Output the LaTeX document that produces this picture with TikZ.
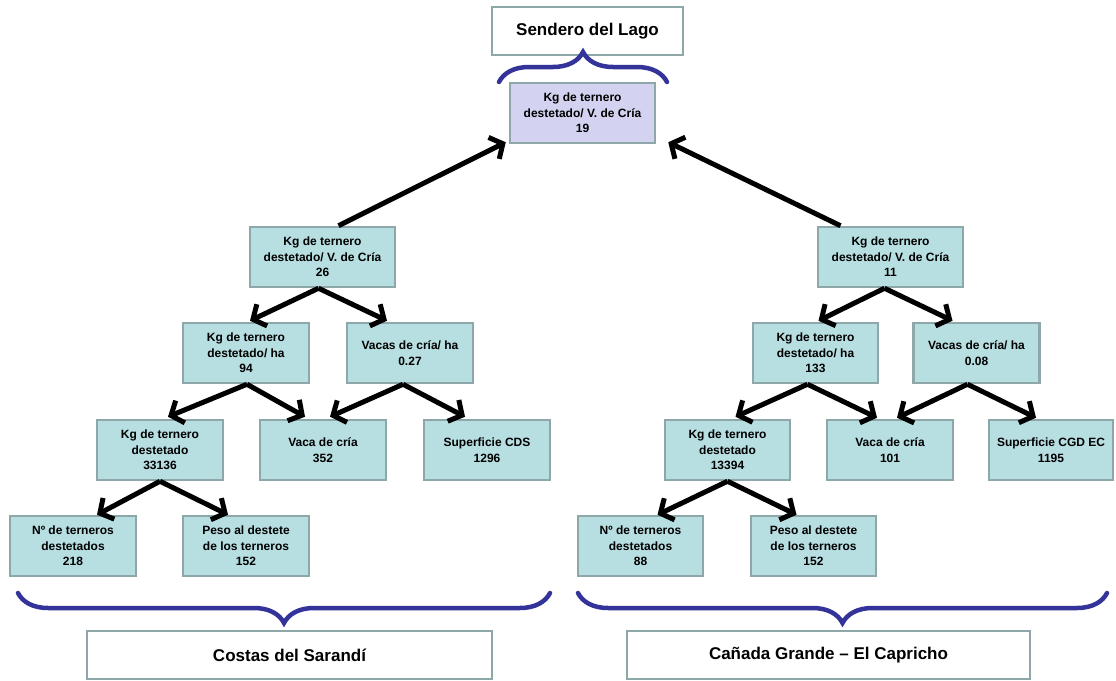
\documentclass[tikz,border=0pt]{standalone}
\usepackage{fontspec}
\setmainfont{Liberation Sans}
\usetikzlibrary{arrows.meta,calc,decorations.pathreplacing}
\definecolor{boxfill}{HTML}{B7DEE1}
\definecolor{boxline}{HTML}{8EA8AA}
\definecolor{rootfill}{HTML}{D3D3F1}
\definecolor{bracecol}{HTML}{333399}
\begin{document}
\begin{tikzpicture}[x=1pt,y=-1pt,
  cell/.style={draw=boxline, line width=2.5pt, fill=boxfill, align=center,
    font=\bfseries\fontsize{12}{15.5}\selectfont, inner sep=0pt,
    minimum width=126, minimum height=60},
  wide/.style={minimum width=145},
  rootcell/.style={cell, wide, fill=rootfill},
  label/.style={draw=boxline, line width=2.5pt, fill=white, align=center,
    font=\bfseries\fontsize{17}{20}\selectfont, inner sep=0pt, minimum height=48},
  link/.style={line width=5pt, -{Straight Barb[length=10pt,width=24pt]}},
  grp/.style={draw=bracecol, line width=4.5pt, line cap=round,
    decorate, decoration={brace, amplitude=30pt}},
  grpdown/.style={grp, decoration={brace, mirror, amplitude=30pt}}]
\useasboundingbox (0,0) rectangle (1116,680);

% farm names
\node[label, minimum width=191] (title) at (587.5,31) {Sendero del Lago};
\node[label, minimum width=405] (farmL) at (289.5,655) {Costas del Sarandí};
\node[label, minimum width=403] (farmR) at (828.5,655) {Cañada Grande – El Capricho};

% overall indicator
\node[rootcell] (root) at (582.5,113) {Kg de ternero\\destetado/ V. de Cría\\19};

% Costas del Sarandí tree
\node[cell, wide] (l1) at (322.5,257) {Kg de ternero\\destetado/ V. de Cría\\26};
\node[cell] (l2a) at (246,353) {Kg de ternero\\destetado/ ha\\94};
\node[cell] (l2b) at (410,353) {Vacas de cría/ ha\\0.27};
\node[cell] (l3a) at (160,450) {Kg de ternero\\destetado\\33136};
\node[cell] (l3b) at (323,450) {Vaca de cría\\352};
\node[cell] (l3c) at (487,450) {Superficie CDS\\1296};
\node[cell] (l4a) at (73,546) {Nº de terneros\\destetados\\218};
\node[cell] (l4b) at (246,546) {Peso al destete\\de los terneros\\152};

% Cañada Grande - El Capricho tree
\node[cell, wide] (r1) at (890.5,257) {Kg de ternero\\destetado/ V. de Cría\\11};
\node[cell, minimum width=125] (r2a) at (815.5,353) {Kg de ternero\\destetado/ ha\\133};
\node[cell] (r2b) at (976.5,353) {Vacas de cría/ ha\\0.08};
\node[cell, minimum width=125] (r3a) at (727.5,450) {Kg de ternero\\destetado\\13394};
\node[cell] (r3b) at (890,450) {Vaca de cría\\101};
\node[cell, minimum width=124] (r3c) at (1051,450) {Superficie CGD EC\\1195};
\node[cell, minimum width=125] (r4a) at (640.5,546) {Nº de terneros\\destetados\\88};
\node[cell, minimum width=125] (r4b) at (813.5,546) {Peso al destete\\de los terneros\\152};

% braces
\coordinate (bt1) at (499,82);  \coordinate (bt2) at (667,82);
\coordinate (bl1) at (18,593);  \coordinate (bl2) at (550,593);
\coordinate (br1) at (578,593); \coordinate (br2) at (1107,593);
\draw[grp] (bt1) -- (bt2);
\draw[grpdown] (bl1) -- (bl2);
\draw[grpdown] (br1) -- (br2);

% arrows, left tree
\draw[link] ($(l1.north)+(16,0)$) -- ($(root.south west)+(-3,-2)$);
\draw[link] ($(l1.south)+(-4,0)$) -- ($(l2a.north)+(4,-1)$);
\draw[link] ($(l1.south)+(-4,0)$) -- ($(l2b.north)+(-23,-1)$);
\draw[link] ($(l2a.south)+(1,0)$) -- ($(l3a.north)+(8,-2)$);
\draw[link] ($(l2a.south)+(1,0)$) -- ($(l3b.north)+(-18,-2)$);
\draw[link] ($(l2b.south)+(-7,0)$) -- ($(l3b.north)+(7,-2)$);
\draw[link] ($(l2b.south)+(-7,0)$) -- ($(l3c.north)+(-22,-2)$);
\draw[link] (l3a.south) -- ($(l4a.north)+(24,0)$);
\draw[link] (l3a.south) -- ($(l4b.north)+(-18,0)$);

% arrows, right tree
\draw[link] ($(r1.north)+(-50,0)$) -- ($(root.south east)+(12,-2)$);
\draw[link] ($(r1.south)+(-6,0)$) -- ($(r2a.north)+(3,-1)$);
\draw[link] ($(r1.south)+(-6,0)$) -- ($(r2b.north)+(-24,-1)$);
\draw[link] ($(r2a.south)+(-8,0)$) -- ($(r3a.north)+(8,-2)$);
\draw[link] ($(r2a.south)+(-8,0)$) -- ($(r3b.north)+(-13,-1)$);
\draw[link] ($(r2b.south)+(-9,0)$) -- ($(r3b.north)+(7,-1)$);
\draw[link] ($(r2b.south)+(-9,0)$) -- ($(r3c.north)+(-15,-1)$);
\draw[link] (r3a.south) -- ($(r4a.north)+(17,0)$);
\draw[link] (r3a.south) -- ($(r4b.north)+(-17,0)$);
\end{tikzpicture}
\end{document}
